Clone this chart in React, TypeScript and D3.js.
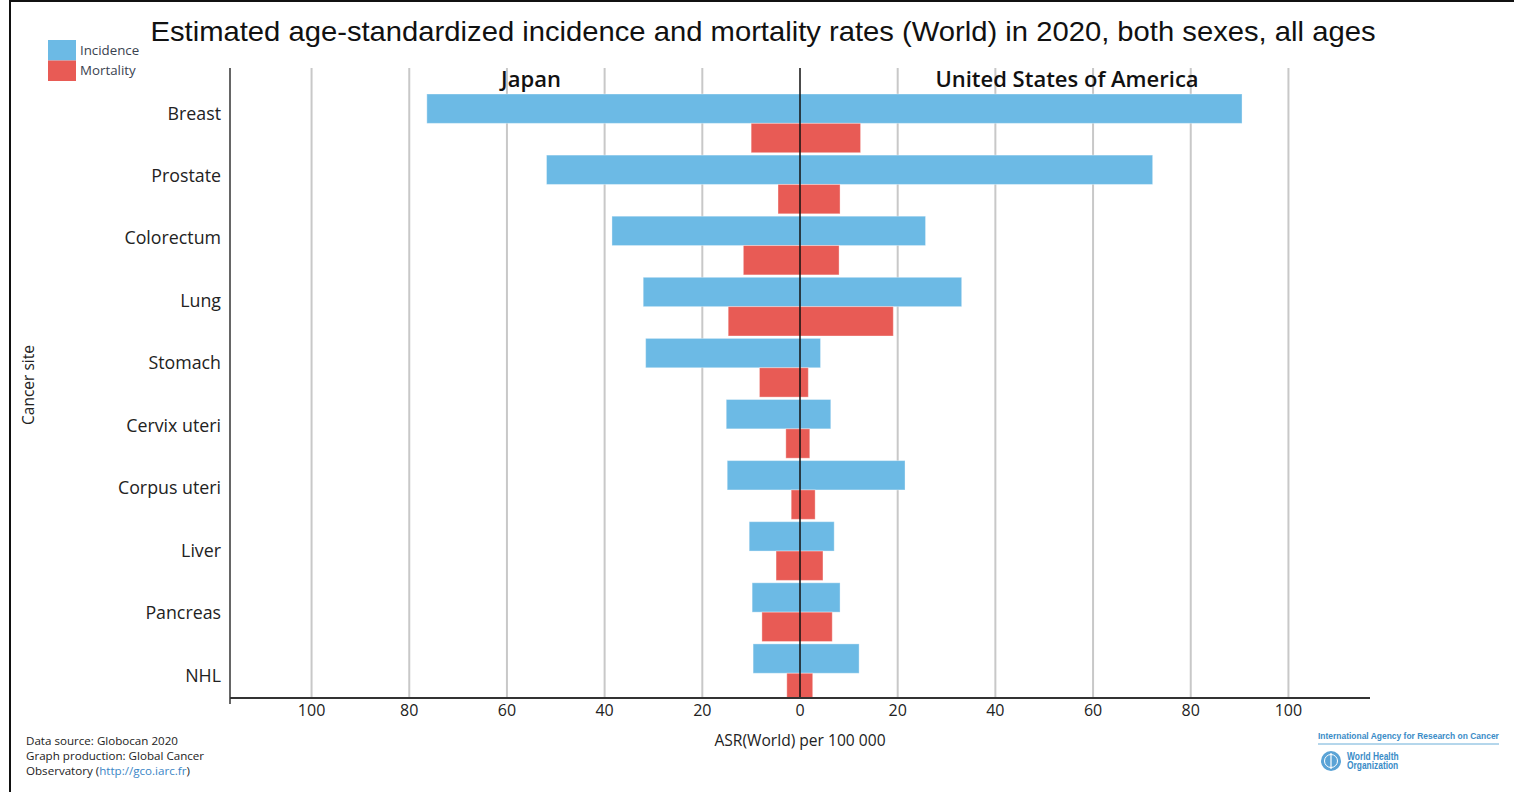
import React from "react";
import * as d3 from "d3";

const categories = ["Breast", "Prostate", "Colorectum", "Lung", "Stomach", "Cervix uteri", "Corpus uteri", "Liver", "Pancreas", "NHL"];
const japanIncidence = [76.4, 51.9, 38.5, 32.1, 31.6, 15.1, 14.9, 10.4, 9.8, 9.6];
const japanMortality = [10.0, 4.5, 11.6, 14.7, 8.3, 2.9, 1.8, 4.9, 7.8, 2.7];
const usaIncidence = [90.5, 72.2, 25.7, 33.1, 4.2, 6.3, 21.5, 7.0, 8.2, 12.1];
const usaMortality = [12.4, 8.2, 8.0, 19.1, 1.7, 2.0, 3.1, 4.7, 6.6, 2.6];
const series = ["Incidence", "Mortality"];
const seriesColors = ["#6cbae5", "#e85b55"];
const tickValues = [-100, -80, -60, -40, -20, 0, 20, 40, 60, 80, 100];
const countries = ["Japan", "United States of America"];

const W = 1514;
const H = 792;
const LEFT = 230;
const RIGHT = 1370;
const TOP = 68;
const BOTTOM = 698;

export default function App() {
  const x = d3.scaleLinear().domain([-116.7, 116.7]).range([LEFT, RIGHT]);
  const y = d3.scaleBand<string>().domain(categories).range([92.8, 703.8]).padding(0);
  const ySub = d3.scaleBand<string>().domain(series).range([1.2, 59.9]).padding(0);
  const yLabel = d3.scalePoint<string>().domain(categories).range([113, 675]);

  const bars: { cat: string; s: string; v0: number; v1: number; color: string }[] = [];
  categories.forEach((c, i) => {
    bars.push({ cat: c, s: "Incidence", v0: -japanIncidence[i], v1: usaIncidence[i], color: seriesColors[0] });
    bars.push({ cat: c, s: "Mortality", v0: -japanMortality[i], v1: usaMortality[i], color: seriesColors[1] });
  });

  const sans = "'Open Sans', 'Noto Sans', sans-serif";
  const logoFont = "'Liberation Sans', Arial, sans-serif";

  return (
    <svg width={W} height={H} style={{ position: "absolute", left: 0, top: 0, background: "#fff" }}>
      <defs>
        <clipPath id="plotClip">
          <rect x={LEFT} y={TOP} width={RIGHT - LEFT} height={BOTTOM - TOP} />
        </clipPath>
      </defs>
      <rect x={0} y={0} width={W} height={H} fill="#fff" />
      <rect x={10} y={1} width={W + 20} height={H + 20} fill="none" stroke="#111" strokeWidth={2} />

      {/* Title */}
      <text x={763} y={41} textAnchor="middle" fontFamily="'Liberation Sans', Arial, sans-serif" fontSize={28} fill="#111"
        textLength={1225} lengthAdjust="spacingAndGlyphs">
        Estimated age-standardized incidence and mortality rates (World) in 2020, both sexes, all ages
      </text>

      {/* Legend */}
      {series.map((s, i) => (
        <g key={s}>
          <rect x={48} y={40 + i * 20.5} width={28} height={20.5} fill={seriesColors[i]} />
          <text x={80} y={49.5 + i * 20} dominantBaseline="central" fontFamily={sans} fontSize={13.3} fill="#3a4350">{s}</text>
        </g>
      ))}

      {/* Gridlines */}
      {tickValues.filter((t) => t !== 0).map((t) => (
        <line key={t} x1={x(t)} x2={x(t)} y1={TOP} y2={BOTTOM} stroke="#c8c8c8" strokeWidth={2} />
      ))}

      {/* Bars */}
      <g clipPath="url(#plotClip)">
        {bars.map((b, i) => (
          <rect key={i} x={x(b.v0)} width={x(b.v1) - x(b.v0)} y={(y(b.cat) as number) + (ySub(b.s) as number)}
            height={ySub.bandwidth()} fill={b.color} stroke="rgba(255,255,255,0.35)" strokeWidth={1} />
        ))}
      </g>

      {/* Center line */}
      <line x1={x(0)} x2={x(0)} y1={TOP} y2={BOTTOM} stroke="#111" strokeWidth={1.5} />

      {/* Axes */}
      <line x1={LEFT} x2={LEFT} y1={TOP} y2={BOTTOM} stroke="#333" strokeWidth={1.5} />
      <line x1={LEFT} x2={RIGHT} y1={BOTTOM} y2={BOTTOM} stroke="#333" strokeWidth={2} />
      <line x1={LEFT} x2={LEFT} y1={BOTTOM} y2={BOTTOM + 6} stroke="#333" strokeWidth={1.5} />

      {tickValues.map((t) => (
        <text key={t} x={x(t)} y={710} textAnchor="middle" dominantBaseline="central" fontFamily={sans} fontSize={16} fill="#222">
          {Math.abs(t)}
        </text>
      ))}

      {/* Category labels */}
      {categories.map((c) => (
        <text key={c} x={221} y={yLabel(c) - 0.5} textAnchor="end" dominantBaseline="central" fontFamily={sans} fontSize={17.8} fill="#222">
          {c}
        </text>
      ))}

      {/* Country labels */}
      <text x={531} y={78} textAnchor="middle" dominantBaseline="central" fontFamily={sans} fontWeight={600} fontSize={22} fill="#111">
        {countries[0]}
      </text>
      <text x={1067} y={78} textAnchor="middle" dominantBaseline="central" fontFamily={sans} fontWeight={600} fontSize={22} fill="#111">
        {countries[1]}
      </text>

      {/* Axis titles */}
      <text x={800} y={739.5} textAnchor="middle" dominantBaseline="central" fontFamily={sans} fontSize={15.6} fill="#222">
        ASR(World) per 100 000
      </text>
      <text transform="translate(28,385) rotate(-90)" textAnchor="middle" dominantBaseline="central" fontFamily={sans} fontSize={15.5} fill="#222">
        Cancer site
      </text>

      {/* Source */}
      <g fontFamily={sans} fontSize={11.6} fill="#222">
        <text x={26} y={740} dominantBaseline="central">Data source: Globocan 2020</text>
        <text x={26} y={755} dominantBaseline="central">Graph production: Global Cancer</text>
        <text x={26} y={770} dominantBaseline="central">
          Observatory (<tspan fill="#3b86c6">http://gco.iarc.fr</tspan>)
        </text>
      </g>

      {/* Logos */}
      <g fill="#3a8cc7">
        <g transform="translate(1318,736) scale(0.89,1)">
          <text x={0} y={0} dominantBaseline="central" fontFamily={logoFont} fontWeight={700} fontSize={9.5}>
            International Agency for Research on Cancer
          </text>
        </g>
        <line x1={1318} x2={1499} y1={744} y2={744} stroke="#6aaed8" strokeWidth={1} />
        <circle cx={1331} cy={761} r={10} fill="#5aa3d6" />
        <circle cx={1331} cy={761} r={6.5} fill="none" stroke="#fff" strokeWidth={1} />
        <line x1={1331} x2={1331} y1={753} y2={769} stroke="#fff" strokeWidth={1.2} />
        <g transform="translate(1347,0) scale(0.84,1)">
          <text x={0} y={756.5} dominantBaseline="central" fontFamily={logoFont} fontWeight={700} fontSize={10}>World Health</text>
          <text x={0} y={765.5} dominantBaseline="central" fontFamily={logoFont} fontWeight={700} fontSize={10}>Organization</text>
        </g>
      </g>
    </svg>
  );
}
